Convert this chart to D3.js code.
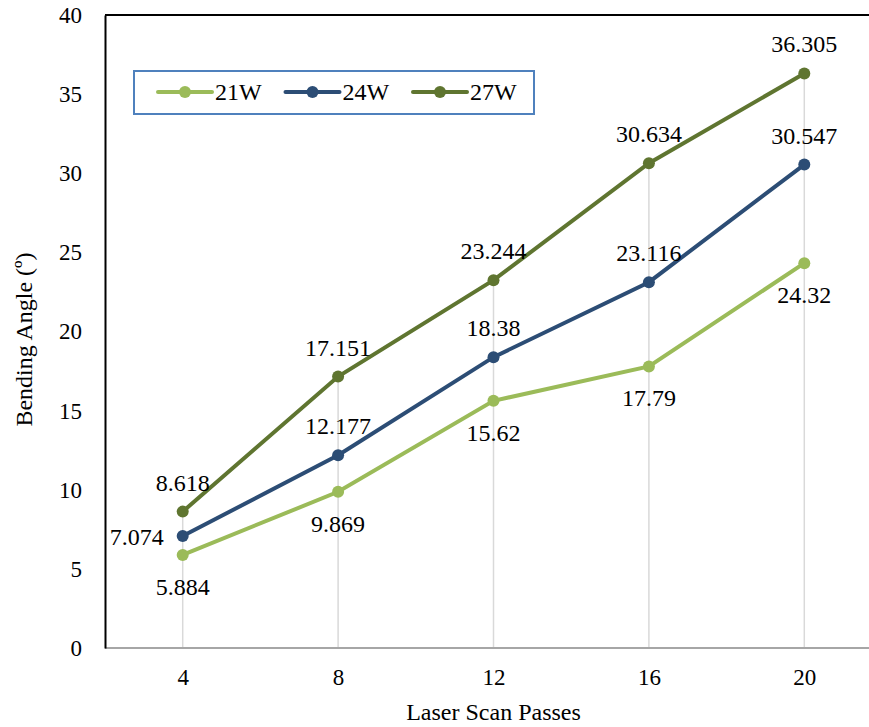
<!DOCTYPE html>
<html>
<head>
<meta charset="utf-8">
<script src="https://cdn.jsdelivr.net/npm/d3@7"></script>
<style>
  body { margin: 0; background: #fff; }
</style>
</head>
<body>
<div id="chart"></div>
<script>
// chart data
const passes = [4, 8, 12, 16, 20];
const seriesNames = ["21W", "24W", "27W"];
const w21 = [5.884, 9.869, 15.62, 17.79, 24.32];
const w24 = [7.074, 12.177, 18.38, 23.116, 30.547];
const w27 = [8.618, 17.151, 23.244, 30.634, 36.305];
const yTicks = [0, 5, 10, 15, 20, 25, 30, 35, 40];

const colors = ["#9bbb59", "#2c4d75", "#5f7530"];
// where each data label sits relative to its point
const labelPos = [
  ["below", "below", "below", "below", "below"],
  ["left", "above", "above", "above", "above"],
  ["above", "above", "above", "above", "above"]
];

const FONT = "'Liberation Serif', 'Times New Roman', serif";
const width = 869, height = 727;
const margin = { left: 105, top: 15, plotW: 777, plotH: 633 };

const svg = d3.select("#chart").append("svg")
  .attr("width", width)
  .attr("height", height)
  .attr("font-family", FONT);

const x = d3.scalePoint()
  .domain(passes)
  .range([margin.left, margin.left + margin.plotW])
  .padding(0.5);

const y = d3.scaleLinear()
  .domain([0, 40])
  .range([margin.top + margin.plotH, margin.top]);

const series = [w21, w24, w27].map((vals, i) => ({
  name: seriesNames[i],
  color: colors[i],
  points: vals.map((v, j) => ({ x: passes[j], y: v, pos: labelPos[i][j] }))
}));

// drop lines from the highest point down to the axis
svg.append("g")
  .selectAll("line")
  .data(passes)
  .enter().append("line")
  .attr("x1", d => x(d))
  .attr("x2", d => x(d))
  .attr("y1", (d, j) => y(d3.max(series, s => s.points[j].y)))
  .attr("y2", y(0))
  .attr("stroke", "#d9d9d9")
  .attr("stroke-width", 1.5);

// x axis
const xAxis = svg.append("g")
  .attr("transform", `translate(0,${y(0)})`)
  .call(d3.axisBottom(x).tickSize(0).tickPadding(21));
xAxis.attr("font-family", FONT).attr("font-size", 23);
xAxis.select(".domain").attr("stroke", "#a6a6a6").attr("stroke-width", 2)
  .attr("d", `M${margin.left},0H${margin.left + margin.plotW}`);

// y axis
const yAxis = svg.append("g")
  .attr("transform", `translate(${margin.left},0)`)
  .call(d3.axisLeft(y).tickValues(yTicks).tickSize(0).tickPadding(23));
yAxis.attr("font-family", FONT).attr("font-size", 23);
yAxis.select(".domain").attr("stroke", "#000").attr("stroke-width", 2);

// top border
svg.append("line")
  .attr("x1", margin.left).attr("x2", margin.left + margin.plotW)
  .attr("y1", y(40)).attr("y2", y(40))
  .attr("stroke", "#000").attr("stroke-width", 2);

const line = d3.line()
  .x(d => x(d.x))
  .y(d => y(d.y));

const sg = svg.append("g").selectAll("g")
  .data(series)
  .enter().append("g");

sg.append("path")
  .attr("d", d => line(d.points))
  .attr("fill", "none")
  .attr("stroke", d => d.color)
  .attr("stroke-width", 4);

sg.selectAll("circle")
  .data(d => d.points.map(p => ({ ...p, color: d.color })))
  .enter().append("circle")
  .attr("cx", d => x(d.x))
  .attr("cy", d => y(d.y))
  .attr("r", 6)
  .attr("fill", d => d.color);

sg.selectAll("text.val")
  .data(d => d.points)
  .enter().append("text")
  .attr("class", "val")
  .attr("x", d => d.pos === "left" ? x(d.x) - 19 : x(d.x))
  .attr("y", d => d.pos === "above" ? y(d.y) - 21 : d.pos === "below" ? y(d.y) + 40 : y(d.y) + 9)
  .attr("text-anchor", d => d.pos === "left" ? "end" : "middle")
  .attr("font-size", 24)
  .attr("fill", "#000")
  .text(d => d.y);

// axis titles
svg.append("text")
  .attr("x", x(12))
  .attr("y", 720)
  .attr("text-anchor", "middle")
  .attr("font-size", 24)
  .text("Laser Scan Passes");

svg.append("text")
  .attr("transform", `translate(32,${(y(0) + y(40)) / 2 + 8}) rotate(-90)`)
  .attr("text-anchor", "middle")
  .attr("font-size", 24)
  .text("Bending Angle (º)");

// legend
const legend = svg.append("g");
legend.append("rect")
  .attr("x", 134).attr("y", 71)
  .attr("width", 400).attr("height", 43)
  .attr("fill", "#fff")
  .attr("stroke", "#4f81bd")
  .attr("stroke-width", 2);

const li = legend.selectAll("g")
  .data(series)
  .enter().append("g")
  .attr("transform", (d, i) => `translate(${158 + i * 127.5},92)`);
li.append("line")
  .attr("x1", 0).attr("x2", 54)
  .attr("stroke", d => d.color)
  .attr("stroke-width", 4)
  .attr("stroke-linecap", "round");
li.append("circle")
  .attr("cx", 27).attr("r", 6)
  .attr("fill", d => d.color);
li.append("text")
  .attr("x", 57).attr("y", 8)
  .attr("font-size", 24)
  .text(d => d.name);
</script>
</body>
</html>
